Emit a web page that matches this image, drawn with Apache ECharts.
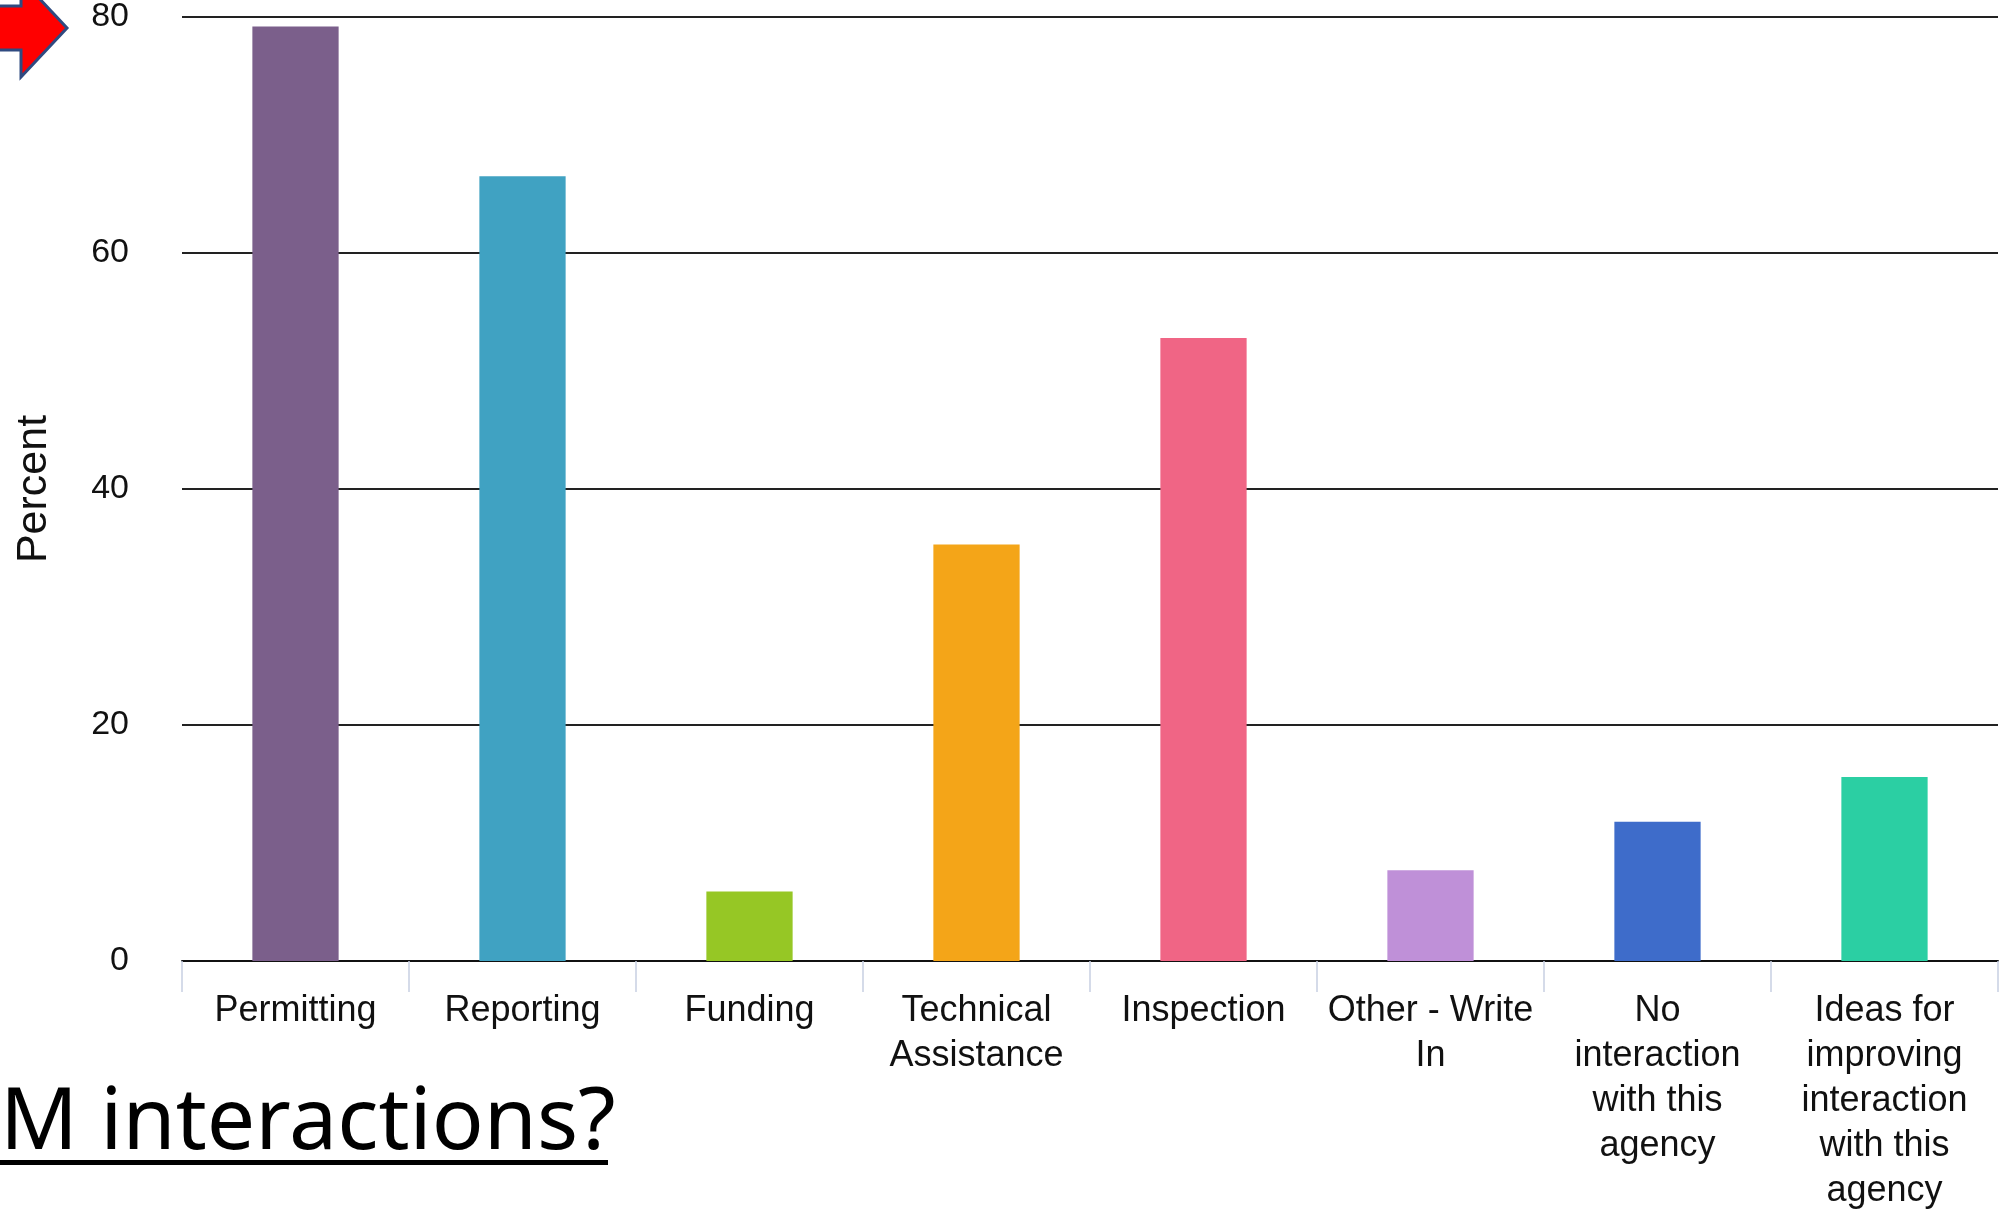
<!DOCTYPE html>
<html>
<head>
<meta charset="utf-8">
<script src="https://cdn.jsdelivr.net/npm/echarts@6/dist/echarts.min.js"></script>
<style>
  html, body { margin: 0; padding: 0; background: #ffffff; }
  #chart { width: 2002px; height: 1210px; }
</style>
</head>
<body>
<div id="chart"></div>
<script>
// ---- Data ----
const categories = [
  "Permitting",
  "Reporting",
  "Funding",
  "Technical Assistance",
  "Inspection",
  "Other - Write In",
  "No interaction with this agency",
  "Ideas for improving interaction with this agency"
];
const tickLabels = [
  "Permitting",
  "Reporting",
  "Funding",
  "Technical\nAssistance",
  "Inspection",
  "Other - Write\nIn",
  "No\ninteraction\nwith this\nagency",
  "Ideas for\nimproving\ninteraction\nwith this\nagency"
];
const percentValues = [79.2, 66.5, 5.9, 35.3, 52.8, 7.7, 11.8, 15.6];
const barColors = ["#7b5f8b", "#40a2c2", "#96c725", "#f4a518", "#f06585", "#bf90d8", "#3e6cca", "#2bcfa3"];
const yTicks = [0, 20, 40, 60, 80];
const yAxisTitle = "Percent";
const captionText = "M interactions?";

// ---- Chart ----
const chart = echarts.init(document.getElementById('chart'), null, { renderer: 'canvas' });

const option = {
  animation: false,
  backgroundColor: '#ffffff',
  grid: { left: 182, right: 4, top: 17, height: 944, containLabel: false, outerBoundsMode: 'none' },
  xAxis: {
    type: 'category',
    data: categories,
    boundaryGap: true,
    axisLine: { show: true, lineStyle: { color: '#111111', width: 2 } },
    axisTick: { show: true, length: 31, alignWithLabel: false, lineStyle: { color: '#c8d0e2', width: 1.5 } },
    axisLabel: {
      interval: 0,
      margin: 28,
      fontFamily: 'Liberation Sans, Arial, sans-serif',
      fontSize: 36,
      lineHeight: 45,
      color: '#111111',
      align: 'center',
      formatter: function (v, i) { return tickLabels[i]; }
    },
    splitLine: { show: false }
  },
  yAxis: {
    type: 'value',
    min: yTicks[0],
    max: yTicks[yTicks.length - 1],
    interval: 20,
    name: yAxisTitle,
    nameLocation: 'middle',
    nameRotate: 90,
    nameGap: 126,
    nameMoveOverlap: false,
    nameTextStyle: { fontFamily: 'Liberation Sans, Arial, sans-serif', fontSize: 43, color: '#111111' },
    axisLine: { show: false },
    axisTick: { show: false },
    axisLabel: {
      margin: 53,
      fontFamily: 'Liberation Sans, Arial, sans-serif',
      fontSize: 34,
      color: '#111111'
    },
    splitLine: { show: true, lineStyle: { color: '#222222', width: 2 } }
  },
  series: [{
    type: 'bar',
    data: percentValues.map(function (v, i) {
      return { value: v, itemStyle: { color: barColors[i] } };
    }),
    barWidth: '38%',
    z: 3
  }],
  graphic: [
    {
      type: 'polygon',
      shape: { points: [[-10, 6], [21, 6], [21, -21], [67, 28], [21, 77], [21, 50], [-10, 50]] },
      style: { fill: '#ff0000', stroke: '#2f4a80', lineWidth: 3 },
      z: 10
    },
    {
      type: 'text',
      left: 0,
      top: 1081,
      style: {
        text: captionText,
        fontFamily: 'Noto Sans, Open Sans, sans-serif',
        fontSize: 86,
        fill: '#000000'
      },
      z: 10
    },
    {
      type: 'rect',
      shape: { x: 0, y: 1160, width: 608, height: 5 },
      style: { fill: '#000000' },
      z: 10
    }
  ]
};

chart.setOption(option);
</script>
</body>
</html>
